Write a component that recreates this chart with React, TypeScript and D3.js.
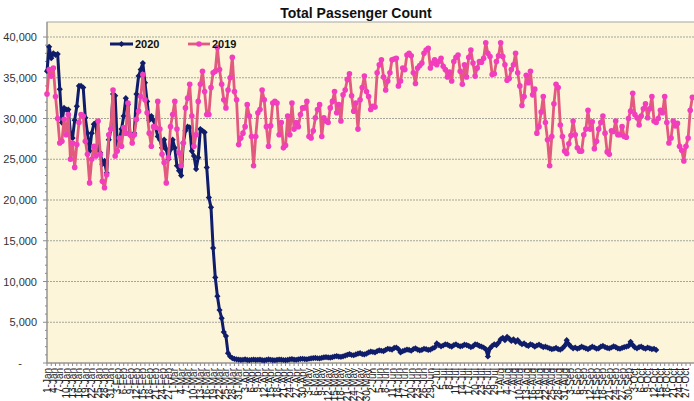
import React from "react";
import * as d3 from "d3";

// Daily passenger counts, day 0 = 1-Jan
const SERIES_2020_NAME = "2020";
const SERIES_2019_NAME = "2019";

const VALUES_2020: number[] = [
  35800, 38800, 37400, 38000, 37800, 37900, 33600, 29500, 31300, 31100,
  31100, 28200, 27600, 29800, 31500, 34000, 34000, 33800, 30100, 28200,
  26000, 28200, 29300, 29500, 26200, 25800, 24400, 24800, 23300, 27400,
  28700, 33000, 32800, 26800, 27400, 28700, 30300, 32500, 31700, 28000,
  27800, 28200, 33000, 35200, 36000, 36800, 34400, 32100, 29800, 30300,
  29800, 28900, 27800, 27400, 26400, 27400, 26200, 25000, 26200, 27400,
  26400, 24200, 23600, 23000, 27000, 28500, 29000, 28900, 26000, 25400,
  23800, 25200, 28700, 28500, 28300, 24000,
  20300, 19100, 14100, 10500, 8200, 6500, 5500, 3800, 3300, 1200, 800, 600,
  500, 450, 420, 380, 400, 450, 380, 350, 400, 430, 380, 400,
  420, 360, 330, 380, 440, 400, 360, 340, 390, 430, 410, 370,
  350, 380, 450, 480, 420, 400, 450, 500, 520, 480, 460, 520, 560, 600,
  620, 580, 560, 640, 700, 720, 680, 650, 720, 800, 850, 780, 760, 820, 900,
  1000, 1100, 980, 950, 1050, 1150, 1200, 1100, 1050, 1150, 1300,
  1400, 1350, 1300, 1450, 1550, 1500, 1450, 1600, 1750, 1700, 1650, 1850,
  1900, 1700, 1300, 1450,
  1550, 1650, 1600, 1500, 1700, 1800, 1650, 1550, 1600, 1750, 1700, 1600, 1650, 1800, 1900,
  2400, 2200, 2050, 2150, 2300, 2250, 2100, 2000, 2200, 2300, 2150, 2050, 2100,
  2250, 2200, 2100, 1950, 2050, 2300, 2250, 2100, 2000, 1900, 1700,
  800,
  1800, 2100, 2300, 2200, 2500,
  2900, 3100, 2800, 3200, 3000, 2700, 2900,
  2600, 2800, 2500, 2300, 2400,
  2200, 2100, 2300, 2200, 2000, 2150, 2250, 2100, 1950, 2000, 1900,
  1800, 1700, 1750, 1850, 1700, 1650, 1800, 2100,
  2800,
  2300, 2000, 1800, 1900, 1750, 1850, 2000, 1900, 1800, 1700, 1850, 2000, 1900, 1750, 1800,
  2000, 2100, 1950, 1850, 1800, 1900, 2050, 1950, 1800, 1750, 1850, 1950, 2000, 2100,
  2600,
  2200, 1900, 1800, 1950, 2000, 1850, 1750, 1900, 1800, 1700, 1750, 1600,
];

const VALUES_2019: number[] = [
  33000, 36000, 35200, 36200, 32700, 30000, 27000, 27200, 29900, 28000,
  30500, 25000, 27000, 24000, 26800, 29500, 30500, 30300, 27200, 25600,
  22100, 25000, 26600, 25400, 29700, 25600, 22300, 21500, 23100, 28000,
  28700, 33500, 25400, 26000, 27600, 26600, 28900, 28200, 31900, 28000,
  27000, 28000, 29900, 30900, 32700, 35400, 32300, 30700, 28200, 26600,
  29000, 28900, 32100, 28700, 25600, 24600, 22100, 25200, 29000, 30500,
  32100, 28700, 25800, 24200, 27000, 31300, 32500, 34200, 30300, 26600,
  28000, 32100, 34200, 35800, 33300, 30500, 30500, 33800, 35600, 35800,
  38700, 36000, 34200, 32300, 31300, 33500, 35000, 37500, 33300, 32300,
  26800, 27600, 28200, 29000, 31700, 30300, 27800, 24200, 27800, 30700,
  31100, 33500, 32300, 29000,
  26600, 29100, 31900, 32100, 31900, 28000, 29500, 26400, 26700, 30300,
  28000, 31900, 28700, 29500, 29000, 30500, 31300, 31300, 32100,
  27800, 27600, 28500, 30100, 31100, 31700, 27800, 30100, 29700,
  29500, 31300, 32100, 33300, 30700, 31700, 29700, 32900, 33500,
  34800, 35500, 32800, 30900, 31900, 28700, 32300, 33800, 35200,
  33300, 32700, 31100, 31500, 31400, 35600, 36600, 37200, 35100,
  33500, 34600, 35600, 37200, 37300, 37400, 34000, 34600, 36200, 36000,
  37800, 38000, 37700, 35600, 34300, 36200, 36500, 36800, 38000,
  38400, 38600, 36200, 36800, 37200, 36600, 37000, 37400, 36400,
  36000, 35100, 35700, 34600, 37000, 37500, 37800, 35800, 34200,
  36600, 35100, 37500, 38400, 36800, 35200, 36200, 37000,
  36900, 37400, 39300, 38000, 37600, 35400, 35500, 37000, 37700, 39300,
  37600, 36600, 34700, 34900, 36000, 36600, 38000, 35600, 34000, 31600,
  32700, 35300, 34400, 35800, 32900, 33600, 28200, 29000, 30800,
  32700, 29500, 27400, 24200, 27800, 31800, 34200, 33800, 29200, 27800,
  26000, 25700, 26900, 27900, 29700, 28000, 26400, 26000, 26000, 28000,
  28700, 31000, 28700, 29600, 26300, 27200, 28700, 29500, 30300,
  28200, 25900, 25600, 28500, 28400, 29700, 28000, 28000, 29000, 27800,
  27700, 30000, 30900, 33100, 30500, 30100, 29200, 30300, 31200, 31800,
  30100, 31200, 32700, 29700, 29500, 30000, 31000, 30700, 32700,
  29500, 27000, 27600, 29700, 29100, 29400, 26600, 26100, 24800, 26600,
  27600, 31000, 32600,
];

const Y_TICKS = [0, 5000, 10000, 15000, 20000, 25000, 30000, 35000, 40000];
const Y_MINOR_STEP = 1000;
const START_DATE = new Date(2020, 0, 1);
const LABEL_EVERY_DAYS = 3;
const TITLE = "Total Passenger Count";

const W = 694;
const H = 401;
const PLOT_LEFT = 47;
const PLOT_TOP = 22;
const PLOT_BOTTOM = 363;

export default function App() {
  const lastDay = 330;
  const x = d3.scaleLinear().domain([0, 304]).range([PLOT_LEFT, 694.5]);
  const y = d3.scaleLinear().domain([0, 40000]).range([PLOT_BOTTOM, 37]);
  const line = d3
    .line<number>()
    .x((_, i) => x(i))
    .y((d) => y(d));
  const fmtY = (v: number) => (v === 0 ? "-" : d3.format(",")(v));
  const fmtDate = d3.timeFormat("%-d-%b");

  const labelDays = d3.range(0, lastDay, LABEL_EVERY_DAYS).filter((d) => x(d) + 4 <= W - 2);
  const tickDays = d3.range(0, lastDay, 2);
  const minorY = d3.range(0, 41000, Y_MINOR_STEP);
  const diamond = "M0,-3.1L3.1,0L0,3.1L-3.1,0Z";

  const navy = "#0F1D6A";
  const pinkLine = "#E25A7E";
  const pinkMarker = "#F23DBE";

  return (
    <svg
      width={W}
      height={H}
      style={{ position: "absolute", left: 0, top: 0, background: "#fff" }}
      fontFamily="'Liberation Sans', Arial, sans-serif"
    >
      <rect x={PLOT_LEFT} y={PLOT_TOP} width={W - PLOT_LEFT + 5} height={PLOT_BOTTOM - PLOT_TOP} fill="#FCF5DA" stroke="#A6A6A6" strokeWidth={1} />
      {Y_TICKS.filter((t) => t > 0).map((t) => (
        <line key={"g" + t} x1={PLOT_LEFT} x2={W} y1={y(t)} y2={y(t)} stroke="#A3A698" strokeWidth={1} strokeDasharray="2 1" />
      ))}
      <line x1={PLOT_LEFT} x2={PLOT_LEFT} y1={PLOT_TOP} y2={PLOT_BOTTOM} stroke="#8C8C8C" />
      {minorY.map((t) => (
        <line key={"m" + t} x1={PLOT_LEFT - (t % 5000 === 0 ? 4 : 2)} x2={PLOT_LEFT} y1={y(t)} y2={y(t)} stroke="#8C8C8C" />
      ))}
      {Y_TICKS.map((t) => (
        <text
          key={"yl" + t}
          x={t === 0 ? 20 : 37}
          y={y(t) + 4}
          textAnchor={t === 0 ? "middle" : "end"}
          fontSize={11}
          fill="#333"
        >
          {fmtY(t)}
        </text>
      ))}
      <line x1={PLOT_LEFT} x2={W} y1={PLOT_BOTTOM} y2={PLOT_BOTTOM} stroke="#8C8C8C" />
      {tickDays.map((d) => (
        <line key={"xt" + d} x1={x(d)} x2={x(d)} y1={PLOT_BOTTOM} y2={PLOT_BOTTOM + 3} stroke="#8C8C8C" />
      ))}
      {labelDays.map((d) => (
        <text
          key={"xl" + d}
          transform={`translate(${x(d) + 3.5},${PLOT_BOTTOM + 5}) rotate(-90)`}
          textAnchor="end"
          fontSize={10}
          fill="#222"
        >
          {fmtDate(d3.timeDay.offset(START_DATE, d))}
        </text>
      ))}
      <path d={line(VALUES_2020) || ""} fill="none" stroke={navy} strokeWidth={3} strokeLinejoin="round" />
      {VALUES_2020.map((v, i) => (
        <path key={"d" + i} d={diamond} transform={`translate(${x(i)},${y(v)})`} fill={navy} />
      ))}
      <path d={line(VALUES_2019) || ""} fill="none" stroke={pinkLine} strokeWidth={2.8} strokeLinejoin="round" />
      {VALUES_2019.map((v, i) => (
        <circle key={"c" + i} cx={x(i)} cy={y(v)} r={2.8} fill={pinkMarker} />
      ))}
      <line x1={110} x2={133} y1={44} y2={44} stroke={navy} strokeWidth={3} />
      <path d={diamond} transform="translate(121.5,44)" fill={navy} />
      <text x={135} y={48} fontSize={11} fontWeight="bold" fill="#111">{SERIES_2020_NAME}</text>
      <line x1={188} x2={210} y1={44} y2={44} stroke={pinkLine} strokeWidth={2.8} />
      <circle cx={199} cy={44} r={2.8} fill={pinkMarker} />
      <text x={212} y={48} fontSize={11} fontWeight="bold" fill="#111">{SERIES_2019_NAME}</text>
      <text x={356} y={18} textAnchor="middle" fontSize={14} fontWeight="bold" fill="#111">{TITLE}</text>
    </svg>
  );
}
